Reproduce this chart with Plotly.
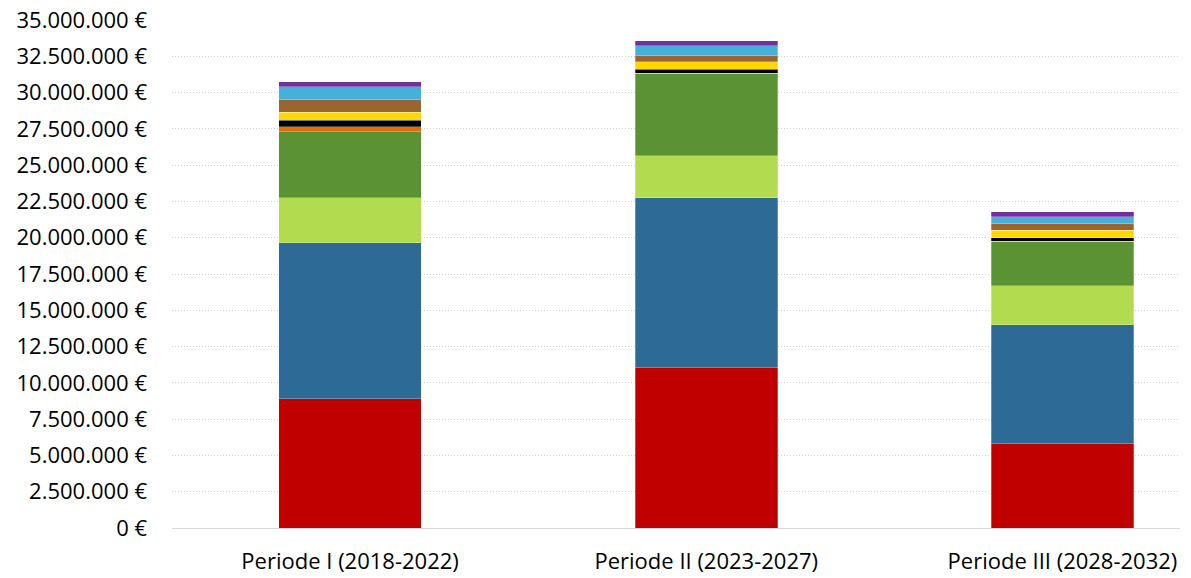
import plotly.graph_objects as go

categories = ["Periode I (2018-2022)", "Periode II (2023-2027)", "Periode III (2028-2032)"]

# Segment values per period (EUR), bottom to top
seg_red = [8920000, 11050000, 5820000]
seg_blue = [10750000, 11690000, 8170000]
seg_lightgreen = [3100000, 2900000, 2690000]
seg_green = [4520000, 5650000, 3060000]
seg_orange = [350000, 50000, 30000]
seg_black = [460000, 270000, 240000]
seg_yellow = [550000, 510000, 510000]
seg_brown = [850000, 440000, 430000]
seg_cyan = [890000, 660000, 480000]
seg_purple = [350000, 340000, 350000]

series = [
    (seg_red, "#C00000"),
    (seg_blue, "#2D6A96"),
    (seg_lightgreen, "#B2DB4F"),
    (seg_green, "#5B9234"),
    (seg_orange, "#E46C0A"),
    (seg_black, "#000000"),
    (seg_yellow, "#FFD700"),
    (seg_brown, "#996633"),
    (seg_cyan, "#45B0DC"),
    (seg_purple, "#7030A0"),
]

y_ticks = [i * 2500000 for i in range(15)]

fig = go.Figure()
for vals, col in series:
    fig.add_trace(go.Bar(
        x=[0, 1, 2], y=vals, width=0.40,
        marker=dict(color=col, line=dict(color="rgba(255,255,255,0.45)", width=0.6)),
        showlegend=False,
    ))

fig.update_layout(
    barmode="stack",
    width=1191, height=578,
    margin=dict(l=172, r=11, t=19.5, b=50.3),
    paper_bgcolor="white", plot_bgcolor="white",
    separators=",.",
    font=dict(family="Open Sans, Noto Sans, sans-serif", size=22, color="#000000"),
)
fig.update_xaxes(
    range=[-0.5, 2.33],
    tickmode="array", tickvals=[0, 1, 2], ticktext=categories,
    showgrid=False, zeroline=False,
    showline=True, linecolor="#D9D9D9", linewidth=1,
    ticks="", ticklen=0, ticklabelstandoff=14,
    tickfont=dict(size=22), automargin=False,
)
fig.update_yaxes(
    range=[0, 35000000],
    tickmode="array", tickvals=y_ticks,
    ticktext=[f"{v:,.0f}".replace(",", ".") + " €" for v in y_ticks],
    showgrid=True, gridcolor="#D0D0D0", griddash="1px,2px", gridwidth=1,
    zeroline=False, showline=False,
    ticks="", ticklabelstandoff=24,
    tickfont=dict(size=22), automargin=False,
)

fig.write_html("out.html")
